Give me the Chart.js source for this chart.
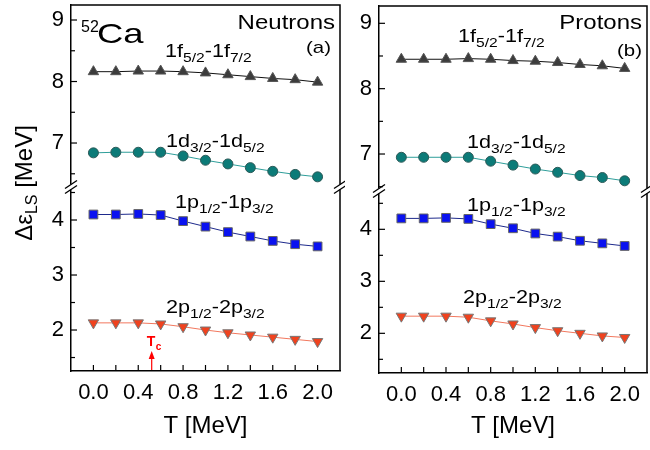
<!DOCTYPE html>
<html>
<head>
<meta charset="utf-8">
<script src="https://cdn.jsdelivr.net/npm/chart.js@4.4.1/dist/chart.umd.min.js"></script>
<style>
	html, body { margin: 0; padding: 0; background: #fff; }
	#wrap { position: relative; width: 650px; height: 450px; }
	#left { position: absolute; left: 0; top: 0; }
	#right { position: absolute; left: 345px; top: 0; }
</style>
</head>
<body>
<div id="wrap">
	<canvas id="left" width="345" height="450"></canvas>
	<canvas id="right" width="305" height="450"></canvas>
</div>
<script>
// temperature grid, MeV
const temps = [0.0, 0.2, 0.4, 0.6, 0.8, 1.0, 1.2, 1.4, 1.6, 1.8, 2.0];
const xTickLabels = [0.0, 0.4, 0.8, 1.2, 1.6, 2.0];
const upperTickLabels = [7, 8, 9];
const lowerTickLabels = [2, 3, 4];
const tcValue = 0.52;

// neutrons (a)
const n1f = [8.16, 8.16, 8.17, 8.17, 8.16, 8.14, 8.11, 8.08, 8.05, 8.03, 7.99];
const n1d = [6.84, 6.85, 6.85, 6.85, 6.79, 6.72, 6.66, 6.60, 6.54, 6.49, 6.45];
const n1p = [4.10, 4.10, 4.11, 4.09, 3.98, 3.88, 3.78, 3.70, 3.62, 3.56, 3.52];
const n2p = [2.13, 2.13, 2.13, 2.11, 2.06, 2.00, 1.95, 1.91, 1.87, 1.83, 1.79];

// protons (b)
const p1f = [8.45, 8.45, 8.45, 8.46, 8.45, 8.43, 8.42, 8.40, 8.37, 8.35, 8.31];
const p1d = [6.95, 6.95, 6.95, 6.95, 6.89, 6.83, 6.77, 6.72, 6.67, 6.64, 6.59];
const p1p = [4.21, 4.21, 4.22, 4.20, 4.10, 4.02, 3.92, 3.86, 3.78, 3.73, 3.68];
const p2p = [2.33, 2.33, 2.33, 2.31, 2.24, 2.18, 2.11, 2.05, 2.00, 1.95, 1.92];

const FONT = "'Liberation Sans', Arial, sans-serif";
const STRETCH = 1.2; // text in the original is a bit wide

function line(ctx, x1, y1, x2, y2) {
	ctx.beginPath();
	ctx.moveTo(x1, y1);
	ctx.lineTo(x2, y2);
	ctx.stroke();
}

function wideText(ctx, text, x, y, font, sx) {
	ctx.save();
	ctx.translate(x, y);
	ctx.scale(sx, 1);
	ctx.font = font;
	ctx.fillText(text, 0, 0);
	ctx.restore();
}

// draws text like 1f5/2-1f7/2 ; parts = [text, isSub]
function drawSub(ctx, parts, x, y, size) {
	ctx.save();
	ctx.translate(x, y);
	ctx.scale(STRETCH, 1);
	let cx = 0;
	parts.forEach(([t, sub]) => {
		ctx.font = (sub ? Math.round(size * 0.7) : size) + 'px ' + FONT;
		ctx.fillText(t, cx, sub ? size * 0.3 : 0);
		cx += ctx.measureText(t).width;
	});
	ctx.restore();
}

function series(values, yAxisID, style) {
	return Object.assign({
		data: temps.map((t, i) => ({x: t, y: values[i]})),
		yAxisID: yAxisID,
		borderWidth: 1,
		pointBorderWidth: 1,
		tension: 0
	}, style);
}

const styles = {
	f: {borderColor: '#111', pointStyle: 'triangle', pointRadius: 6, pointBackgroundColor: '#3c3c3c', pointBorderColor: '#555'},
	d: {borderColor: '#2e9e9a', pointStyle: 'circle', pointRadius: 5, pointBackgroundColor: '#0c7b78', pointBorderColor: '#2d5a58'},
	p: {borderColor: '#1e2a8c', pointStyle: 'rect', pointRadius: 6.2, pointBackgroundColor: '#0a12f0', pointBorderColor: '#666'},
	p2: {borderColor: '#f2785e', pointStyle: 'triangle', rotation: 180, pointRadius: 6, pointBackgroundColor: '#f0421e', pointBorderColor: '#777'}
};

function labelParts(n, l, j1, j2) {
	return [[n + l, 0], [j1, 1], ['-' + n + l, 0], [j2, 1]];
}

function makePanel(id, cfg) {
	const deco = {
		id: 'deco',
		afterDraw(chart) {
			const ctx = chart.ctx, a = chart.chartArea;
			const xs = chart.scales.x, yu = chart.scales.yUp, yl = chart.scales.yLow;
			ctx.save();
			ctx.strokeStyle = '#000';
			ctx.lineWidth = 1.5;
			ctx.beginPath();
			ctx.moveTo(a.left, a.top);
			ctx.lineTo(a.right, a.top);
			ctx.lineTo(a.right, a.bottom);
			ctx.stroke();

			// inward ticks
			ctx.lineWidth = 1.2;
			for (let k = 0; k <= 10; k++) {
				const px = xs.getPixelForValue(k * 0.2);
				line(ctx, px, a.bottom, px, a.bottom - 6);
			}
			[yu, yl].forEach(s => {
				for (let v = Math.ceil(s.min * 2) / 2; v <= s.max; v += 0.5) {
					const py = s.getPixelForValue(v);
					line(ctx, a.left, py, a.left + (Number.isInteger(v) ? 6 : 4), py);
				}
			});

			// axis break marks
			const by = yu.bottom;
			[a.left, a.right].forEach(bx => {
				ctx.fillStyle = '#fff';
				ctx.fillRect(bx - 2, by - 2.5, 4, 5);
				ctx.lineWidth = 1.3;
				[-2.5, 2.5].forEach(off => line(ctx, bx - 6, by + off + 4, bx + 6, by + off - 4));
			});

			// texts
			ctx.fillStyle = '#000';
			ctx.textAlign = 'left';
			ctx.textBaseline = 'alphabetic';
			cfg.labels.forEach(([parts, x, y]) => drawSub(ctx, parts, x, y, 18));

			ctx.textAlign = 'right';
			wideText(ctx, cfg.name, cfg.nameX, 29, '20px ' + FONT, STRETCH);
			wideText(ctx, cfg.tag, cfg.tagX, cfg.tagY, '17px ' + FONT, STRETCH);
			ctx.textAlign = 'left';

			if (cfg.extra) cfg.extra(ctx, chart);
			ctx.restore();
		}
	};

	const yBase = {
		type: 'linear',
		position: 'left',
		stack: 'main',
		grid: {display: false, drawTicks: false},
		border: {display: true, color: '#000', width: 1.5},
		ticks: {font: {family: FONT, size: 22}, color: '#000', padding: 7},
		afterFit: s => {
			s.width = cfg.yWidth;
			s.paddingTop = 0;
			s.paddingBottom = 0;
		}
	};

	return new Chart(document.getElementById(id), {
		type: 'line',
		data: {datasets: cfg.datasets},
		options: {
			responsive: false,
			devicePixelRatio: 1,
			animation: false,
			events: [],
			layout: {autoPadding: false, padding: {left: 0, top: cfg.top, right: cfg.right, bottom: 0}},
			plugins: {legend: {display: false}, tooltip: {enabled: false}},
			scales: {
				x: {
					type: 'linear',
					min: -0.2,
					max: 2.2,
					afterBuildTicks: s => { s.ticks = xTickLabels.map(v => ({value: v})); },
					grid: {display: false, drawTicks: false},
					border: {display: true, color: '#000', width: 1.5},
					ticks: {font: {family: FONT, size: 22}, color: '#000', padding: 9, maxRotation: 0, autoSkip: false, callback: v => v.toFixed(1)},
					title: {display: true, text: 'T [MeV]', font: {family: FONT, size: 24}, color: '#000', padding: {top: 0, bottom: 9}},
					afterFit: s => {
						s.height = cfg.xHeight;
						s.paddingLeft = 0;
						s.paddingRight = 0;
					}
				},
				yLow: Object.assign({}, yBase, {
					min: cfg.lowRange[0], max: cfg.lowRange[1], stackWeight: cfg.weights[1],
					afterBuildTicks: s => { s.ticks = lowerTickLabels.map(v => ({value: v})); }
				}),
				yUp: Object.assign({}, yBase, {
					min: cfg.upRange[0], max: cfg.upRange[1], stackWeight: cfg.weights[0],
					afterBuildTicks: s => { s.ticks = upperTickLabels.map(v => ({value: v})); }
				})
			}
		},
		plugins: [deco]
	});
}

makePanel('left', {
	top: 5, right: 5, yWidth: 71, xHeight: 79,
	upRange: [6.285, 9.244], lowRange: [1.255, 4.6], weights: [182, 184],
	datasets: [
		series(n1f, 'yUp', styles.f),
		series(n1d, 'yUp', styles.d),
		series(n1p, 'yLow', styles.p),
		series(n2p, 'yLow', styles.p2)
	],
	labels: [
		[labelParts('1', 'f', '5/2', '7/2'), 165, 57],
		[labelParts('1', 'd', '3/2', '5/2'), 166, 147],
		[labelParts('1', 'p', '1/2', '3/2'), 175, 208],
		[labelParts('2', 'p', '1/2', '3/2'), 166, 313]
	],
	name: 'Neutrons', nameX: 335, tag: '(a)', tagX: 331, tagY: 53,
	extra: (ctx, chart) => {
		// 52Ca
		ctx.fillStyle = '#000';
		ctx.font = '16px ' + FONT;
		ctx.fillText('52', 81, 32);
		wideText(ctx, 'Ca', 97, 43, '28px ' + FONT, 1.3);
		// y title
		ctx.save();
		ctx.translate(32, 183);
		ctx.rotate(-Math.PI / 2);
		ctx.font = '24px ' + FONT;
		const w1 = ctx.measureText('\u0394\u03b5').width;
		ctx.font = '16px ' + FONT;
		const w2 = ctx.measureText('LS').width;
		ctx.font = '24px ' + FONT;
		const w3 = ctx.measureText(' [MeV]').width;
		let cx = -(w1 + w2 + w3) / 2;
		ctx.fillText('\u0394\u03b5', cx, 0); cx += w1;
		ctx.font = '16px ' + FONT;
		ctx.fillText('LS', cx, 5); cx += w2;
		ctx.font = '24px ' + FONT;
		ctx.fillText(' [MeV]', cx, 0);
		ctx.restore();
		// Tc arrow
		const tx = chart.scales.x.getPixelForValue(tcValue), b = chart.chartArea.bottom;
		ctx.strokeStyle = '#f00';
		ctx.fillStyle = '#f00';
		ctx.lineWidth = 1.2;
		line(ctx, tx, b - 1, tx, b - 14);
		ctx.beginPath();
		ctx.moveTo(tx, b - 20);
		ctx.lineTo(tx - 3, b - 12);
		ctx.lineTo(tx + 3, b - 12);
		ctx.closePath();
		ctx.fill();
		ctx.font = 'bold 14px ' + FONT;
		ctx.fillText('T', tx - 5, b - 25);
		ctx.font = 'bold 10px ' + FONT;
		ctx.fillText('c', tx + 4, b - 21);
	}
});

makePanel('right', {
	top: 6, right: 3, yWidth: 34, xHeight: 77,
	upRange: [6.434, 9.265], lowRange: [1.237, 4.737], weights: [185, 182],
	datasets: [
		series(p1f, 'yUp', styles.f),
		series(p1d, 'yUp', styles.d),
		series(p1p, 'yLow', styles.p),
		series(p2p, 'yLow', styles.p2)
	],
	labels: [
		[labelParts('1', 'f', '5/2', '7/2'), 113, 42],
		[labelParts('1', 'd', '3/2', '5/2'), 122, 148],
		[labelParts('1', 'p', '1/2', '3/2'), 122, 211],
		[labelParts('2', 'p', '1/2', '3/2'), 118, 303]
	],
	name: 'Protons', nameX: 297, tag: '(b)', tagX: 297, tagY: 56
});
</script>
</body>
</html>
